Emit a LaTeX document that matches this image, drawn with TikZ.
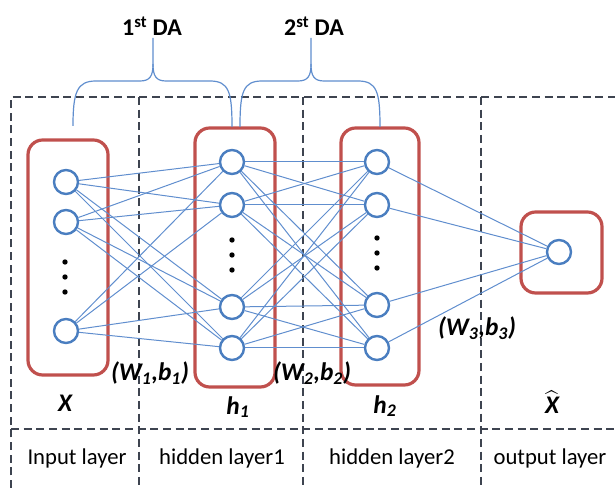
\documentclass[tikz,border=0pt]{standalone}
\usepackage{amsmath}
\usepackage{fontspec}
\setmainfont{Carlito}
\usepackage{tikz}
\definecolor{nnblue}{RGB}{74,126,192}
\definecolor{linkblue}{RGB}{96,142,206}
\definecolor{boxred}{RGB}{192,80,77}
\definecolor{gridgray}{RGB}{62,68,80}
\tikzset{
  neuron/.style={circle, draw=nnblue, fill=white, line width=1.8pt, minimum size=18pt, inner sep=0pt},
  link/.style={draw=linkblue, line width=0.75pt},
  layerbox/.style={draw=boxred, line width=2.4pt, rounded corners=11pt},
  gridline/.style={draw=gridgray, line width=1.2pt, dash pattern=on 6pt off 3.5pt},
  dabrace/.style={draw=linkblue, line width=0.9pt},
  datitle/.style={font=\fontsize{18}{21}\selectfont\bfseries},
  varlabel/.style={font=\fontsize{19}{22}\selectfont\bfseries\itshape},
  layername/.style={font=\fontsize{17}{20}\selectfont}
}

\begin{document}
\begin{tikzpicture}[x=0.75pt, y=-0.75pt]
    \useasboundingbox (0,0) rectangle (615,488);
    % dashed frame
    \draw[gridline] (11,488) -- (11,97) -- (615,97); \draw[gridline] (11,429) -- (615,429);
    \foreach \x in {139,303,481} \draw[gridline] (\x,97) -- (\x,488);

    % layer boxes
    \draw[layerbox] (28,140) rectangle (108,375); \draw[layerbox] (195,128) rectangle (275,387);
    \draw[layerbox] (341,128) rectangle (419,385); \draw[layerbox] (521,212) rectangle (602,293);

    % neurons
    \foreach \n/\y in {1/182,2/222,3/331} \node[neuron] (in\n) at (66,\y) {};
    \foreach \n/\y in {1/162,2/205,3/307,4/348} \node[neuron] (hA\n) at (232,\y) {};
    \foreach \n/\y in {1/162,2/205,3/305,4/348} \node[neuron] (hB\n) at (377,\y) {};
    \node[neuron] (out) at (559,252) {};
    \foreach \x/\y in {65/262,232/240,377/238} \foreach \d in {0,15,30} \fill (\x,\y+\d) circle (2pt);

    % weights
    \foreach \i in {1,2,3} \foreach \j in {1,...,4} \draw[link] (in\i) -- (hA\j);
    \foreach \i in {1,...,4} \foreach \j in {1,...,4} \draw[link] (hA\i) -- (hB\j);
    \foreach \i in {1,...,4} \draw[link] (hB\i) -- (out);

    % braces
    \draw[dabrace] (73,126) .. controls (73,92) and (77,81) .. (96,81) -- (140,81) .. controls (150,81) and (153,76) .. (153,64) -- (153,38);
    \draw[dabrace] (153,64) .. controls (153,76) and (156,81) .. (166,81) -- (210,81) .. controls (229,81) and (232,92) .. (232,127);
    \draw[dabrace] (240,127) .. controls (240,92) and (243,81) .. (262,81) -- (298,81) .. controls (308,81) and (311,76) .. (311,64) -- (311,38);
    \draw[dabrace] (311,64) .. controls (311,76) and (314,81) .. (324,81) -- (358,81) .. controls (377,81) and (380,92) .. (380,127);

    % labels
    \node[datitle] (da1) at (152,26) {1\textsuperscript{st} DA}; \node[datitle] (da2) at (314,26) {2\textsuperscript{st} DA};
    \node[varlabel] (lX) at (65,403) {X}; \node[varlabel] (lh1) at (238,407) {h\textsubscript{1}};
    \node[varlabel] (lh2) at (385,406) {h\textsubscript{2}}; \node[varlabel] (lXh) at (552,402) {$\widehat{\text{X}}$};
    \node[varlabel] (wb1) at (150,373) {(W\textsubscript{1},b\textsubscript{1})}; \node[varlabel] (wb2) at (312,373) {(W\textsubscript{2},b\textsubscript{2})};
    \node[varlabel] (wb3) at (477,328) {(W\textsubscript{3},b\textsubscript{3})};
    \node[layername] (ln1) at (77,458) {Input layer}; \node[layername] (ln2) at (222,458) {hidden layer1};
    \node[layername] (ln3) at (392,458) {hidden layer2}; \node[layername] (ln4) at (550,458) {output layer};
\end{tikzpicture}
\end{document}
